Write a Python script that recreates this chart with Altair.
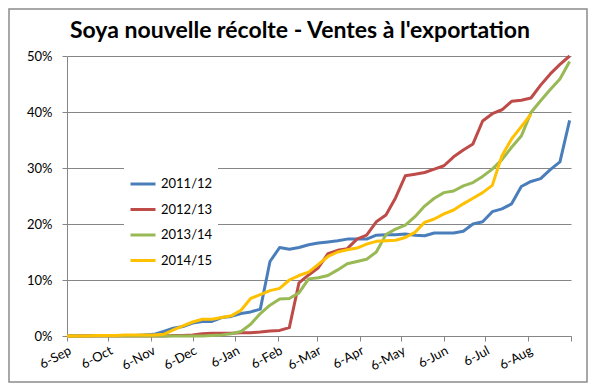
import json
import altair as alt
import pandas as pd

title_text = "Soya nouvelle récolte - Ventes à l'exportation"
series_names = ["2011/12", "2012/13", "2013/14", "2014/15"]
series_colors = ["#4A7EBB", "#BE4B48", "#98B954", "#FFC000"]

# x positions: days after 6-Sep (weekly reports)
week_days = list(range(0, 365, 7))
tick_days = [0, 30, 61, 91, 122, 153, 181, 212, 242, 273, 303, 334, 365]
tick_labels = ["6-Sep", "6-Oct", "6-Nov", "6-Dec", "6-Jan", "6-Feb", "6-Mar",
               "6-Apr", "6-May", "6-Jun", "6-Jul", "6-Aug", ""]
y_ticks = [0, 0.1, 0.2, 0.3, 0.4, 0.5]

# cumulative % of export sales
s2011 = [0, 0, 0, 0.1, 0.1, 0.1, 0.1, 0.1, 0.2,
         0.3, 0.8, 1.4, 1.7, 2.3, 2.6, 2.6, 3.3, 3.5, 4.0, 4.3, 4.8, 13.3, 15.8,
         15.5, 15.8, 16.3, 16.6, 16.8, 17.0, 17.3, 17.3, 17.3, 18.0, 18.1, 18.1,
         18.2, 18.0, 17.9, 18.4, 18.4, 18.4, 18.7, 20.0, 20.4, 22.2, 22.7, 23.6,
         26.7, 27.6, 28.1, 29.7, 31.1, 38.5]
s2012 = [0, 0, 0, 0, 0, 0, 0, 0, 0, 0, 0, 0.1, 0.1,
         0.2, 0.4, 0.5, 0.5, 0.5, 0.6, 0.6, 0.7, 0.9, 1.0, 1.5, 9.5, 10.9, 12.2,
         14.7, 15.3, 15.6, 17.3, 18.0, 20.4, 21.6, 24.7, 28.6, 28.9, 29.2, 29.8,
         30.4, 32.0, 33.2, 34.3, 38.4, 39.7, 40.4, 41.9, 42.1, 42.5, 44.8, 46.8,
         48.5, 50.0]
s2013 = [0, 0, 0, 0, 0, 0, 0, 0, 0, 0, 0, 0, 0, 0, 0, 0.1,
         0.2, 0.4, 0.8, 2.1, 4.0, 5.5, 6.6, 6.7, 7.7, 10.2, 10.4, 10.8, 11.8,
         12.9, 13.3, 13.7, 15.0, 18.1, 19.1, 19.8, 21.3, 23.2, 24.6, 25.6, 25.9,
         26.8, 27.4, 28.5, 29.8, 31.5, 33.7, 35.7, 39.9, 42.0, 44.0, 45.9, 49.0]
s2014 = [0, 0, 0, 0.1, 0.1, 0.1, 0.2, 0.2, 0.2,
         0.2, 0.3, 1.1, 1.8, 2.5, 3.0, 3.0, 3.3, 3.6, 4.6, 6.7, 7.4, 8.1, 8.5,
         10.0, 10.8, 11.4, 12.8, 14.2, 15.0, 15.4, 15.7, 16.4, 16.9, 17.0, 17.1,
         17.6, 18.5, 20.3, 20.9, 21.8, 22.5, 23.6, 24.6, 25.6, 26.9, 32.2, 35.2,
         37.4, 39.6]

rows = []
for name, vals in zip(series_names, [s2011, s2012, s2013, s2014]):
    for d, v in zip(week_days, vals):
        rows.append({"series": name, "day": d, "value": v / 100.0})
df = pd.DataFrame(rows)

FONT = "Lato"
GRAY = "#868686"

label_expr = "%s[indexof(%s, datum.value)]" % (json.dumps(tick_labels), json.dumps(tick_days))

W, H = 504, 280
PL, PT, PR, PB = 59, 48, 17, 47

lines = alt.Chart(df).mark_line(strokeWidth=3, strokeJoin="round").encode(
    x=alt.X("day:Q",
            scale=alt.Scale(domain=[0, 365], nice=False, zero=False),
            axis=alt.Axis(values=tick_days, labelExpr=label_expr, title=None, grid=False,
                          labelAngle=-28, labelAlign="right", labelBaseline="top",
                          tickSize=5, tickColor=GRAY, domainColor=GRAY,
                          labelFont=FONT, labelFontSize=13, labelColor="black",
                          labelPadding=3, labelOverlap=False)),
    y=alt.Y("value:Q",
            scale=alt.Scale(domain=[0, 0.5], nice=False),
            axis=alt.Axis(values=y_ticks, format=".0%", title=None, grid=True,
                          gridColor=GRAY, tickSize=5, tickColor=GRAY, domainColor=GRAY,
                          labelFont=FONT, labelFontSize=13, labelColor="black",
                          labelPadding=10)),
    color=alt.Color("series:N",
                    scale=alt.Scale(domain=series_names, range=series_colors),
                    legend=alt.Legend(orient="none", legendX=57, legendY=109, title=None,
                                      symbolType="stroke", symbolSize=625,
                                      symbolStrokeWidth=3, labelFont=FONT,
                                      labelFontSize=13, labelColor="black",
                                      fillColor="white", padding=5, rowPadding=4.5,
                                      labelOffset=4)),
)

title = alt.Chart(pd.DataFrame({"t": [title_text]})).mark_text(
    font=FONT, fontSize=23, fontWeight="bold", color="black",
    align="center", baseline="alphabetic"
).encode(x=alt.value(233), y=alt.value(-18), text="t:N")

border = alt.Chart(pd.DataFrame({"a": [0]})).mark_rect(
    filled=False, stroke="#8c8c8c", strokeWidth=1.5
).encode(x=alt.value(-PL + 1), x2=alt.value(W + PR - 1),
         y=alt.value(-PT + 1), y2=alt.value(H + PB - 1))

chart = alt.layer(border, lines, title).properties(
    width=W, height=H,
    autosize=alt.AutoSizeParams(type="none"),
    padding={"left": PL, "top": PT, "right": PR, "bottom": PB},
).configure_view(stroke=None)

chart.save("out.html", embed_options={"renderer": "svg", "actions": False})
